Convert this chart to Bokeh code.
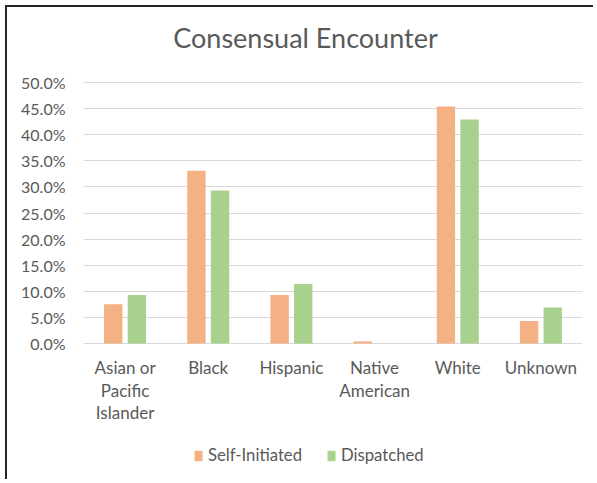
from bokeh.plotting import figure
from bokeh.models import (ColumnDataSource, FactorRange, Range1d, NumeralTickFormatter,
                          FixedTicker, Legend, LegendItem, LabelSet, Label, InlineStyleSheet)
from bokeh.core.properties import value
from bokeh.transform import dodge
from bokeh.embed import file_html
from bokeh.resources import INLINE

# ---- data ----
categories = ["Asian or Pacific Islander", "Black", "Hispanic",
              "Native American", "White", "Unknown"]
category_labels = ["Asian or\nPacific\nIslander", "Black", "Hispanic",
                   "Native\nAmerican", "White", "Unknown"]
self_initiated = [0.075, 0.331, 0.093, 0.004, 0.454, 0.043]
dispatched = [0.093, 0.293, 0.114, 0.0, 0.429, 0.069]
y_ticks = [0.0, 0.05, 0.10, 0.15, 0.20, 0.25, 0.30, 0.35, 0.40, 0.45, 0.50]
series_names = ["Self-Initiated", "Dispatched"]
chart_title = "Consensual Encounter"

FONT = "Lato"
TEXT = "#595959"
ORANGE = "#F4B183"
GREEN = "#A9D18E"
GRID = "#D9D9D9"
LABEL_SIZE = "17px"

# ---- layout geometry (pixels) ----
W, H = 588, 474
TOP_GAP = 75             # pixels from canvas top to the 50% line
VALUE_PX = 261           # pixels from 0% to 50%
Y_MAX = 0.5
px_per_unit = VALUE_PX / Y_MAX
y_min = -(H - TOP_GAP - VALUE_PX) / px_per_unit   # room below 0% for labels/legend
y_max = Y_MAX + TOP_GAP / px_per_unit               # room above 50% for the title

src = ColumnDataSource(dict(cat=categories, s=self_initiated, d=dispatched))

p = figure(x_range=FactorRange(*categories), y_range=Range1d(y_min, y_max),
           width=W, height=H, output_backend="svg", toolbar_location=None,
           min_border_left=76, min_border_right=13, min_border_top=0,
           min_border_bottom=0)
p.title.visible = False
p.stylesheets = [InlineStyleSheet(css=":host { border-left: 2px solid #262626; "
                                      "border-top: 2px solid #262626; "
                                      "margin-left: 5px; margin-top: 5px; }")]

r1 = p.vbar(x=dodge("cat", -0.142, range=p.x_range), top="s", width=0.221,
            source=src, fill_color=ORANGE, line_color=None)
r2 = p.vbar(x=dodge("cat", 0.142, range=p.x_range), top="d", width=0.221,
            source=src, fill_color=GREEN, line_color=None)

p.outline_line_color = None
p.background_fill_color = "white"
p.border_fill_color = "white"

p.xgrid.grid_line_color = None
p.ygrid.grid_line_color = GRID
p.ygrid.grid_line_width = 1
p.xaxis.visible = False

p.yaxis.ticker = FixedTicker(ticks=y_ticks)
p.yaxis.formatter = NumeralTickFormatter(format="0.0%")
p.yaxis.axis_line_color = None
p.yaxis.major_tick_line_color = None
p.yaxis.minor_tick_line_color = None
p.yaxis.major_tick_out = 0
p.yaxis.major_label_standoff = 18
p.yaxis.major_label_text_font = FONT
p.yaxis.major_label_text_font_size = "16px"
p.yaxis.major_label_text_color = TEXT

# category labels (multi-line) placed under the 0% line via the categorical scale
lab_x, lab_y, lab_t = [], [], []
for cat, lbl in zip(categories, category_labels):
    for i, line in enumerate(lbl.split("\n")):
        lab_x.append(cat)
        lab_y.append(-(13.5 + i * 22.5) / px_per_unit)
        lab_t.append(line)
lab_src = ColumnDataSource(dict(x=lab_x, y=lab_y, text=lab_t))
p.add_layout(LabelSet(x="x", y="y", text="text", source=lab_src,
                      text_align="center", text_baseline="top",
                      text_font=value(FONT), text_font_size=value(LABEL_SIZE),
                      text_color=TEXT))

# chart title
p.add_layout(Label(x=222, x_units="screen", y=Y_MAX + 45 / px_per_unit,
                   text=chart_title, text_align="center", text_baseline="middle",
                   text_font=FONT, text_font_size="27px", text_color=TEXT))

legend = Legend(items=[LegendItem(label=series_names[0], renderers=[r1]),
                       LegendItem(label=series_names[1], renderers=[r2])],
                orientation="horizontal", location=(110, 16),
                glyph_width=10, glyph_height=13, label_standoff=5,
                label_width=118, spacing=0,
                padding=0, margin=0, border_line_color=None,
                background_fill_alpha=0, label_height=13,
                label_text_font=FONT, label_text_font_size="16.7px",
                label_text_color=TEXT)
p.add_layout(legend)

open("out.html", "w").write(file_html(p, INLINE))
